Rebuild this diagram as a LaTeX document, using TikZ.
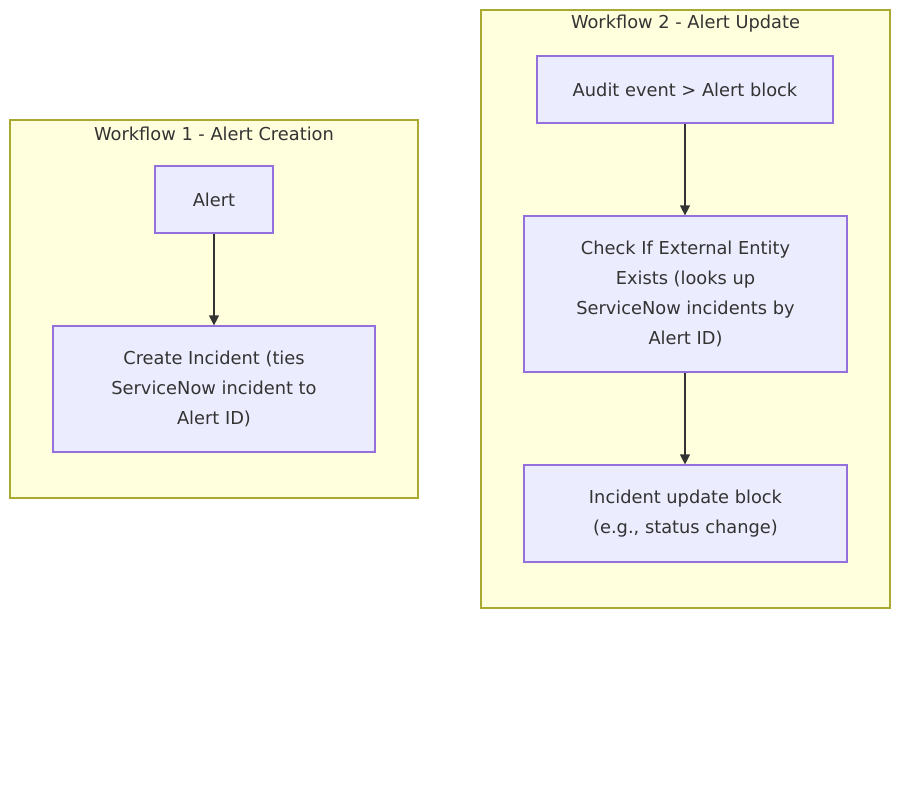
\documentclass[tikz,border=0pt]{standalone}
\usepackage{fontspec}
\setmainfont{DejaVu Sans}
\usetikzlibrary{arrows.meta}
\definecolor{clfill}{HTML}{FFFFDE}
\definecolor{cldraw}{HTML}{AAAA33}
\definecolor{ndfill}{HTML}{ECECFF}
\definecolor{nddraw}{HTML}{9370DB}
\definecolor{txt}{HTML}{333333}
\tikzset{
  cluster/.style={draw=cldraw, fill=clfill, line width=1.2pt, inner sep=0pt, rectangle},
  box/.style={draw=nddraw, fill=ndfill, line width=1.2pt, inner sep=0pt, rectangle, align=center, text=txt,
    font=\fontsize{17.8}{30}\selectfont},
  ttl/.style={text=txt, font=\fontsize{17.8}{20}\selectfont, inner sep=0pt},
  arr/.style={draw=txt, line width=1.2pt, -{Triangle[length=10pt,width=10pt]}}
}
\begin{document}
\begin{tikzpicture}[x=1pt,y=-1pt]
\useasboundingbox (0,0) rectangle (900,800);
\node[cluster, minimum width=408pt, minimum height=378pt] (c1) at (214,309) {};
\node[cluster, minimum width=409pt, minimum height=598pt] (c2) at (685.5,309) {};
\node[ttl] (t1) at (214,134) {Workflow 1 - Alert Creation};
\node[ttl] (t2) at (685.5,24) {Workflow 2 - Alert Update};
\node[box, minimum width=118pt, minimum height=67pt] (alert) at (214,199.5) {Alert};
\node[box, minimum width=322pt, minimum height=126pt] (create) at (214,389) {Create Incident (ties\\ServiceNow incident to\\Alert ID)};
\node[box, minimum width=296pt, minimum height=67pt] (audit) at (685,89.5) {Audit event > Alert block};
\node[box, minimum width=323pt, minimum height=156pt] (check) at (685.5,294) {Check If External Entity\\Exists (looks up\\ServiceNow incidents by\\Alert ID)};
\node[box, minimum width=323pt, minimum height=97pt] (upd) at (685.5,513.5) {Incident update block\\ (e.g., status change)};
\draw[arr] (alert) -- (create);
\draw[arr] (audit.south) -- (audit.south |- check.north);
\draw[arr] (audit.south |- check.south) -- (audit.south |- upd.north);
\end{tikzpicture}
\end{document}
